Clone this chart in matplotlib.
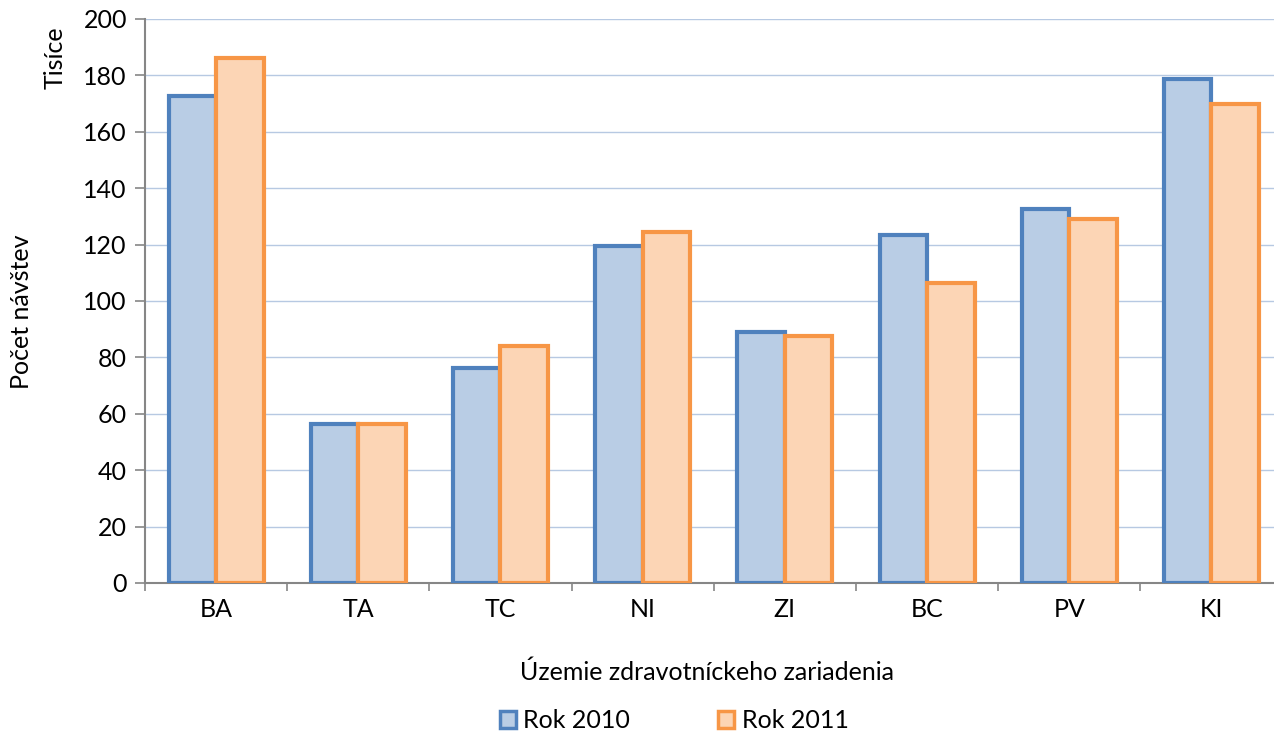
import matplotlib
matplotlib.use("Agg")
import matplotlib.pyplot as plt
import numpy as np
from matplotlib.patches import Patch

categories = ["BA", "TA", "TC", "NI", "ZI", "BC", "PV", "KI"]
rok_2010 = [172.7, 56.5, 76.2, 119.5, 89.0, 123.3, 132.8, 178.7]
rok_2011 = [186.2, 56.4, 84.0, 124.6, 87.6, 106.3, 129.1, 169.9]
series_labels = ["Rok 2010", "Rok 2011"]
yticks = [0, 20, 40, 60, 80, 100, 120, 140, 160, 180, 200]

plt.rcParams['font.family'] = ['Lato', 'DejaVu Sans']

W, H = 1274, 735
fig = plt.figure(figsize=(W / 100, H / 100), dpi=100)
x0, x1 = 145, 1274
y0, y1 = 583, 19
ax = fig.add_axes([x0 / W, (H - y0) / H, (x1 - x0) / W, (y0 - y1) / H])

x = np.arange(len(categories))
bw = 0.334
fill1, edge1 = "#b9cde5", "#4f81bd"
fill2, edge2 = "#fcd5b5", "#f79646"
ax.bar(x - bw / 2, rok_2010, width=bw, color=fill1, edgecolor=edge1, linewidth=3, zorder=3)
ax.bar(x + bw / 2, rok_2011, width=bw, color=fill2, edgecolor=edge2, linewidth=3, zorder=3)

ax.set_yticks(yticks)
ax.set_yticklabels([str(v) for v in yticks], fontsize=18)
ax.yaxis.grid(True, color="#b7c9e2", linewidth=1, zorder=0)
ax.axhline(200, color="black", linewidth=1.2, zorder=1)

ax.set_xticks(x)
ax.set_xticklabels(categories, fontsize=18)
ax.set_xticks(np.arange(-0.5, len(categories) - 1, 1.0), minor=True)
ax.tick_params(axis="x", which="major", length=0, pad=11)
ax.tick_params(axis="x", which="minor", length=6, color="#868686", width=1.2)
ax.tick_params(axis="y", length=7, color="#868686", width=1.2, pad=6)

ax.set_ylim(0, 200)
ax.set_xlim(-0.5, 7.44)

for s in ["top", "right"]:
    ax.spines[s].set_visible(False)
for s in ["left", "bottom"]:
    ax.spines[s].set_color("#868686")
    ax.spines[s].set_linewidth(1.5)

fig.text(55 / W, (H - 58) / H, "Tisíce", rotation=90, fontsize=18, ha="center", va="center")
fig.text(22 / W, (H - 312) / H, "Počet návštev", rotation=90, fontsize=18, ha="center", va="center")
fig.text(707 / W, (H - 672) / H, "Územie zdravotníckeho zariadenia", fontsize=18, ha="center", va="center")

handles = [Patch(facecolor=fill1, edgecolor=edge1, linewidth=2.5),
           Patch(facecolor=fill2, edgecolor=edge2, linewidth=2.5)]
fig.legend(handles, series_labels, loc="center", bbox_to_anchor=(674 / W, (H - 721) / H),
           ncol=2, frameon=False, fontsize=18, handlelength=0.65, handleheight=0.65,
           handletextpad=0.3, columnspacing=3.5)

fig.savefig("out.png", dpi=100)
